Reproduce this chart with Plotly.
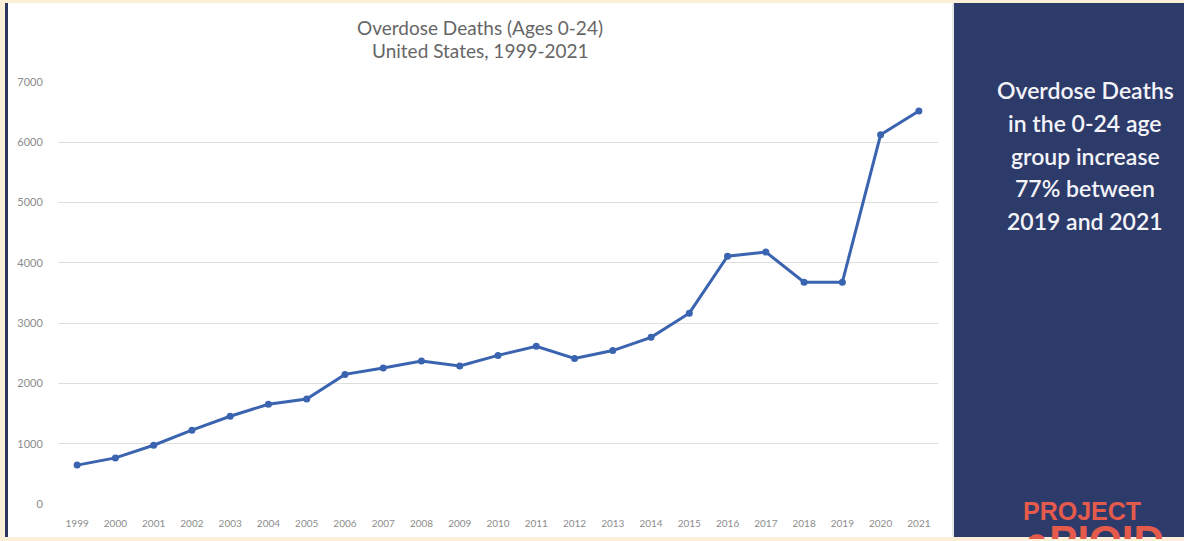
import plotly.graph_objects as go

years = [str(y) for y in range(1999, 2022)]
deaths = [645, 765, 975, 1225, 1455, 1655, 1740, 2150, 2255, 2370, 2290, 2465,
          2615, 2415, 2545, 2765, 3165, 4110, 4180, 3680, 3680, 6125, 6520]
y_ticks = [0, 1000, 2000, 3000, 4000, 5000, 6000, 7000]
title_lines = ["Overdose Deaths (Ages 0-24)", "United States, 1999-2021"]
side_lines = ["Overdose Deaths", "in the 0-24 age", "group increase",
              "77% between", "2019 and 2021"]

W, H = 1184, 541
L, R, T, B = 58, 938, 82, 504  # plot area in pixels
BEIGE = "#fcefd8"
NAVY = "#2d3b6b"
CORAL = "#e45a4b"

fig = go.Figure()
fig.add_trace(go.Scatter(
    x=years, y=deaths, mode="lines+markers",
    line=dict(color="#3b64b0", width=3),
    marker=dict(color="#3b64b0", size=7),
    showlegend=False, hoverinfo="x+y",
))


def px_x(v):
    return (v - L) / (R - L)


def px_y(v):
    return (B - v) / (B - T)


shapes = [
    dict(type="rect", xref="paper", yref="paper", x0=px_x(5), x1=px_x(955),
         y0=px_y(537), y1=px_y(3), fillcolor="white", line=dict(width=0), layer="below"),
    dict(type="rect", xref="paper", yref="paper", x0=px_x(5), x1=px_x(8),
         y0=px_y(537), y1=px_y(3), fillcolor="#2b3560", line=dict(width=0), layer="below"),
    dict(type="rect", xref="paper", yref="paper", x0=px_x(954), x1=px_x(W + 2),
         y0=px_y(537), y1=px_y(3), fillcolor=NAVY, line=dict(width=0), layer="below"),
    dict(type="line", xref="paper", yref="paper", x0=px_x(953), x1=px_x(953),
         y0=px_y(537), y1=px_y(3), line=dict(color="#d0d0d0", width=1), layer="below"),
]

annotations = []
for i, t in enumerate(title_lines):
    annotations.append(dict(
        text=t, xref="paper", yref="paper", x=px_x(480), y=px_y(27 + 24 * i),
        xanchor="center", yanchor="middle", showarrow=False,
        font=dict(family="Lato, 'Open Sans', sans-serif", size=19, color="#666666"),
    ))
for i, t in enumerate(side_lines):
    annotations.append(dict(
        text=t, xref="paper", yref="paper", x=px_x(1085), y=px_y(90 + 32.8 * i),
        xanchor="center", yanchor="middle", showarrow=False,
        font=dict(family="Lato, 'Open Sans', sans-serif", size=23, color="#f4f4f8",
                  weight=600),
    ))
annotations.append(dict(
    text="<b>PROJECT</b>", xref="paper", yref="paper", x=px_x(1082), y=px_y(511),
    xanchor="center", yanchor="middle", showarrow=False,
    font=dict(family="'Liberation Sans Narrow', 'Liberation Sans', Arial, sans-serif",
              size=25, color=CORAL),
))
annotations.append(dict(
    text="<b>●PIOID</b>", xref="paper", yref="paper", x=px_x(1022), y=px_y(515),
    xanchor="left", yanchor="top", showarrow=False,
    font=dict(family="'Liberation Sans Narrow', 'Liberation Sans', Arial, sans-serif",
              size=42, color=CORAL),
))
annotations.append(dict(
    text=" ", xref="paper", yref="paper", x=px_x(0), y=px_y(H + 2),
    xanchor="left", yanchor="bottom", showarrow=False,
    width=W + 10, height=4, bgcolor=BEIGE, borderpad=0, borderwidth=0,
))

fig.update_layout(
    width=W, height=H,
    paper_bgcolor=BEIGE, plot_bgcolor="rgba(0,0,0,0)",
    margin=dict(l=L, r=W - R, t=T, b=H - B),
    shapes=shapes, annotations=annotations,
    xaxis=dict(
        type="category", range=[-0.5, len(years) - 0.5],
        showgrid=False, zeroline=False, showline=False,
        ticks="outside", ticklen=10, tickcolor="rgba(0,0,0,0)",
        tickfont=dict(family="Lato, 'Open Sans', sans-serif", size=10, color="#8c8c8c"),
    ),
    yaxis=dict(
        range=[0, 7000], tickvals=y_ticks, ticktext=[str(v) for v in y_ticks],
        showgrid=True, gridcolor="#dedede", gridwidth=1,
        zeroline=False, showline=False,
        ticks="outside", ticklen=12, tickcolor="rgba(0,0,0,0)",
        tickfont=dict(family="Lato, 'Open Sans', sans-serif", size=11, color="#8c8c8c"),
    ),
)

fig.write_html("out.html")
